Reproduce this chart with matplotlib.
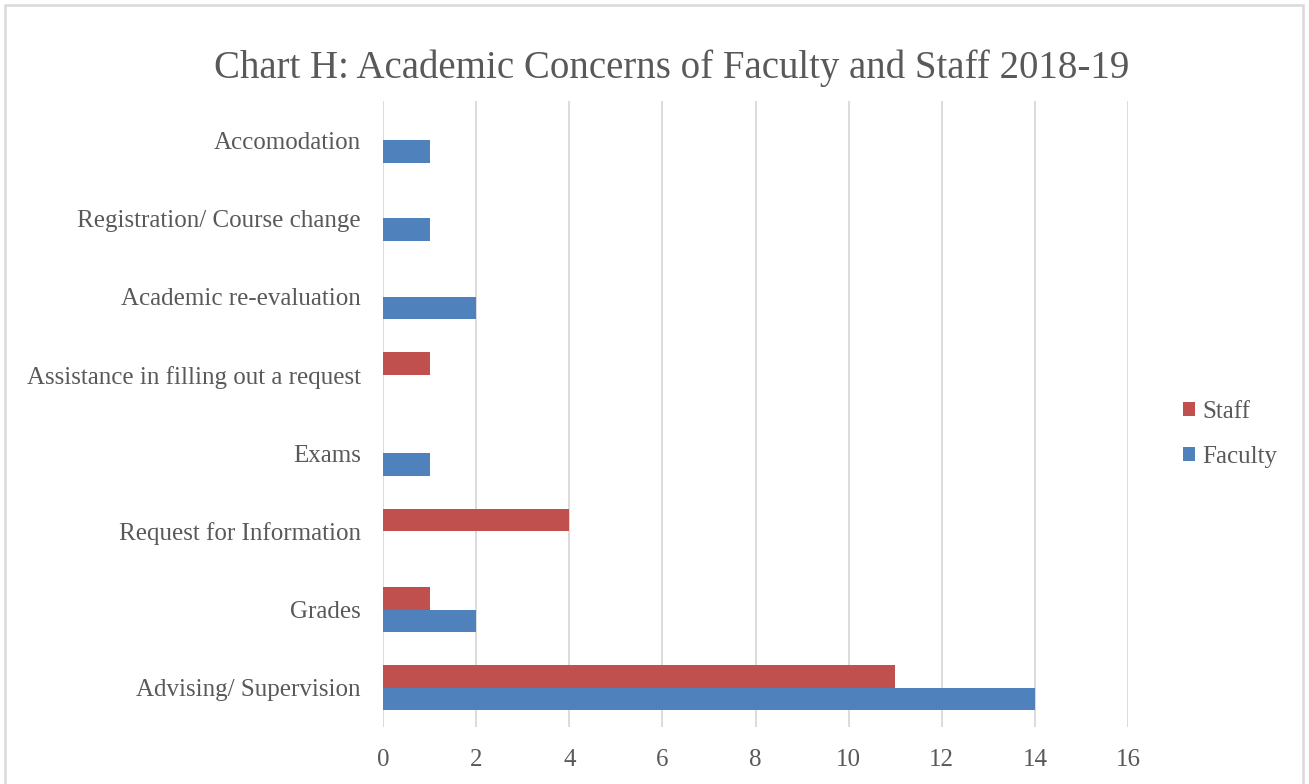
import matplotlib
matplotlib.use("Agg")
import matplotlib.pyplot as plt
from matplotlib.patches import Rectangle
import numpy as np

categories = ["Advising/ Supervision", "Grades", "Request for Information", "Exams",
              "Assistance in filling out a request", "Academic re-evaluation",
              "Registration/ Course change", "Accomodation"]
staff = [11, 1, 4, 0, 1, 0, 0, 0]
faculty = [14, 2, 0, 1, 0, 2, 1, 1]
xticks = [0, 2, 4, 6, 8, 10, 12, 14, 16]

RED = "#C0504D"
BLUE = "#4F81BD"
TXT = "#595959"
GRID = "#D9D9D9"
FONT = ["Liberation Serif", "DejaVu Serif"]

plt.rcParams['font.family'] = FONT

W, H = 1309, 784
fig = plt.figure(figsize=(W / 100, H / 100), dpi=100)
fig.patch.set_facecolor("white")

# outer chart border
fig.patches.append(Rectangle((5 / W, -0.05), (1303 - 5) / W, (H - 5) / H + 0.05,
                             transform=fig.transFigure, fill=False,
                             edgecolor=GRID, linewidth=1.8))

ax = fig.add_axes([383 / W, 57 / H, (1128 - 383) / W, (727 - 101) / H])

y = np.arange(len(categories))
bh = 0.288
ax.barh(y - bh / 2, faculty, height=bh, color=BLUE, label="Faculty", zorder=3)
ax.barh(y + bh / 2, staff, height=bh, color=RED, label="Staff", zorder=3)

ax.set_xlim(0, 16)
ax.set_ylim(-0.5, len(categories) - 0.5)
ax.set_xticks(xticks)
ax.set_xticklabels([str(t) for t in xticks])
ax.set_yticks(y)
ax.set_yticklabels(categories)
ax.tick_params(axis="both", length=0, colors=TXT, labelsize=18)
ax.tick_params(axis="x", pad=15.5)
ax.tick_params(axis="y", pad=16)
for lab in ax.get_xticklabels() + ax.get_yticklabels():
    lab.set_color(TXT)

ax.grid(axis="x", color=GRID, linewidth=1.3, zorder=0)
for s in ax.spines.values():
    s.set_visible(False)

fig.text(672 / W, 1 - 68 / H, "Chart H: Academic Concerns of Faculty and Staff 2018-19",
         ha="center", va="center", fontsize=28, color=TXT)

handles, labels = ax.get_legend_handles_labels()
leg = fig.legend(handles[::-1], labels[::-1], loc="center left",
                 bbox_to_anchor=(1160 / W, 1 - 434 / H), frameon=False,
                 fontsize=18, handlelength=0.48, handleheight=0.48,
                 handletextpad=0.32, labelspacing=0.92, labelcolor=TXT)

fig.savefig("out.png", dpi=100, facecolor="white")
